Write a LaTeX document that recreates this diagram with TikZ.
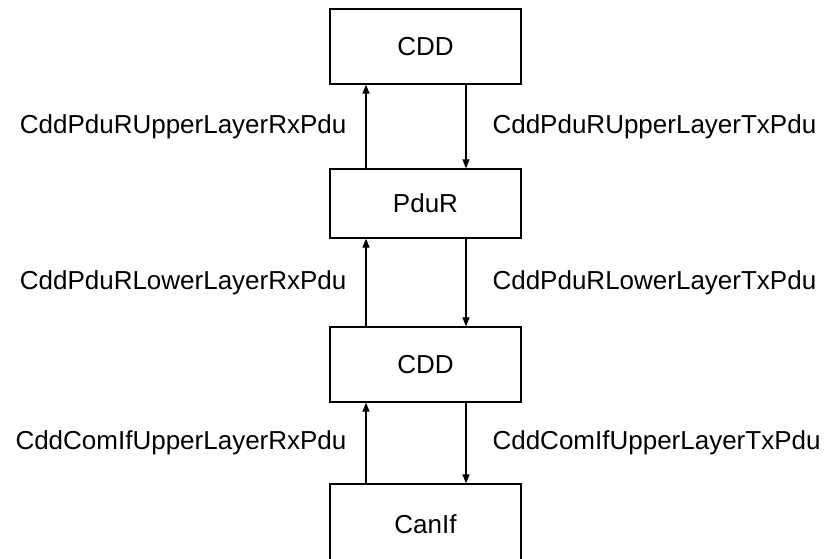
\documentclass[tikz,border=0pt]{standalone}
\usepackage{fontspec}
\setmainfont{Liberation Sans}
\usetikzlibrary{positioning,arrows.meta}

\begin{document}
\begin{tikzpicture}[x=1pt,y=-1pt,
  layer/.style={draw,line width=1.2pt,minimum width=191pt,minimum height=75pt,inner sep=0pt,font=\fontsize{26}{31}\selectfont},
  flow/.style={-{Triangle[length=9pt,width=7pt]},line width=1.1pt},
  sig/.style={inner sep=0pt,font=\fontsize{26}{31}\selectfont}]
  \useasboundingbox (0,0) rectangle (827,558);
  % layers
  \node[layer] (cddtop) at (425.5,46.5) {CDD};
  \node[layer,minimum height=69pt] (pdur) at (425.5,203.5) {PduR};
  \node[layer] (cddlow) at (425.5,364.5) {CDD};
  \node[layer,minimum height=80pt] (canif) at (425.5,524) {CanIf};
  % rx / tx lanes
  \coordinate (rx) at (366,0);
  \coordinate (tx) at (466,0);
  % rx: upwards
  \draw[flow] (pdur.north -| rx) -- (cddtop.south -| rx)
    node[sig,midway,left=19pt] {CddPduRUpperLayerRxPdu};
  \draw[flow] (cddlow.north -| rx) -- (pdur.south -| rx)
    node[sig,midway,left=19pt] {CddPduRLowerLayerRxPdu};
  \draw[flow] (canif.north -| rx) -- (cddlow.south -| rx)
    node[sig,midway,left=19pt] {CddComIfUpperLayerRxPdu};
  % tx: downwards
  \draw[flow] (cddtop.south -| tx) -- (pdur.north -| tx)
    node[sig,midway,right=26pt] {CddPduRUpperLayerTxPdu};
  \draw[flow] (pdur.south -| tx) -- (cddlow.north -| tx)
    node[sig,midway,right=26pt] {CddPduRLowerLayerTxPdu};
  \draw[flow] (cddlow.south -| tx) -- (canif.north -| tx)
    node[sig,midway,right=26pt] {CddComIfUpperLayerTxPdu};
\end{tikzpicture}
\end{document}
